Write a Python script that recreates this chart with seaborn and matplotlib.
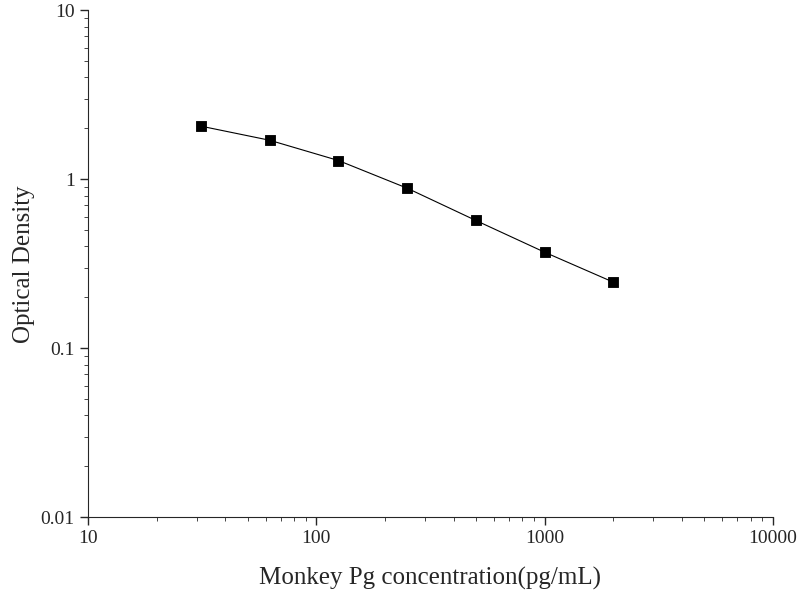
import matplotlib
matplotlib.use("Agg")
import matplotlib.pyplot as plt
import seaborn as sns
import pandas as pd

concentration = [31.25, 62.5, 125, 250, 500, 1000, 2000]
optical_density = [2.06, 1.70, 1.29, 0.885, 0.57, 0.37, 0.246]

sns.set_style("ticks")
plt.rcParams["font.family"] = ["Liberation Serif", "DejaVu Serif"]

df = pd.DataFrame({"conc": concentration, "od": optical_density})

fig = plt.figure(figsize=(8, 6), dpi=100)
ax = fig.add_axes([0.11, 0.138, 0.856, 0.845])
sns.lineplot(data=df, x="conc", y="od", color="black", linewidth=0.8, ax=ax)
sns.scatterplot(data=df, x="conc", y="od", marker="s", color="black", s=60,
                edgecolor="black", zorder=3, ax=ax)
ax.set_xscale("log")
ax.set_yscale("log")
ax.set_xlim(10, 10000)
ax.set_ylim(0.01, 10)
ax.set_xticks([10, 100, 1000, 10000])
ax.set_xticklabels(["10", "100", "1000", "10000"])
ax.set_yticks([0.01, 0.1, 1, 10])
ax.set_yticklabels(["0.01", "0.1", "1", "10"])
ax.tick_params(labelsize=14, width=1, length=6)
ax.tick_params(which="minor", length=3)
ax.set_xlabel("Monkey Pg concentration(pg/mL)", fontsize=18, labelpad=14)
ax.set_ylabel("Optical Density", fontsize=18)
sns.despine(ax=ax)
fig.savefig("out.png", dpi=100)
